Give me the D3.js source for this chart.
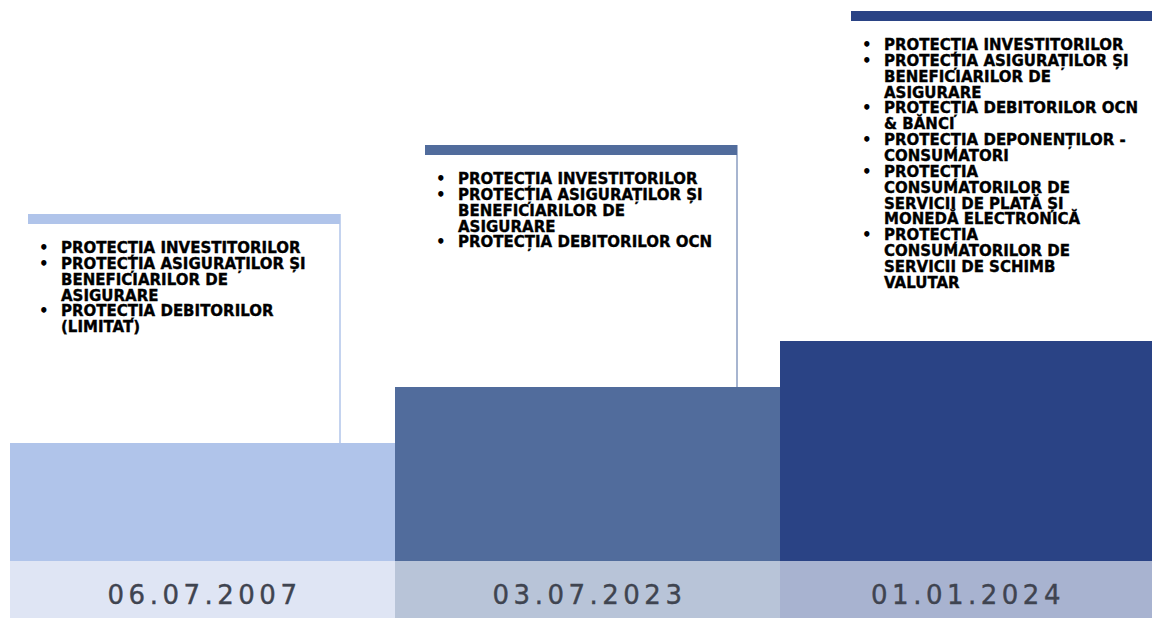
<!doctype html>
<html>
<head>
	<script src="https://d3js.org/d3.v7.min.js"></script>
	<style>
		body { margin: 0; background: #fff; }
		svg { display: block; }
	</style>
</head>
<body>
	<div id="viz">
		<svg style="width:1152px;height:618px;"></svg>
	</div>
	<script>
		// data
		var dates = ["06.07.2007", "03.07.2023", "01.01.2024"];
		var levels = [118, 174, 220];
		var barColors = ["#b0c4ea", "#516c9c", "#2a4385"];
		var bandColors = ["#dfe5f4", "#b8c4d8", "#a8b3d0"];
		var lineColors = ["#b0c4ea", "#8a9cc0", "#2a4385"];
		var items = [
			[["PROTECȚIA INVESTITORILOR"],
			 ["PROTECȚIA ASIGURAȚILOR ȘI", "BENEFICIARILOR DE", "ASIGURARE"],
			 ["PROTECȚIA DEBITORILOR", "(LIMITAT)"]],
			[["PROTECȚIA INVESTITORILOR"],
			 ["PROTECȚIA ASIGURAȚILOR ȘI", "BENEFICIARILOR DE", "ASIGURARE"],
			 ["PROTECȚIA DEBITORILOR OCN"]],
			[["PROTECȚIA INVESTITORILOR"],
			 ["PROTECȚIA ASIGURAȚILOR ȘI", "BENEFICIARILOR DE", "ASIGURARE"],
			 ["PROTECȚIA DEBITORILOR OCN", "& BĂNCI"],
			 ["PROTECȚIA DEPONENȚILOR -", "CONSUMATORI"],
			 ["PROTECȚIA", "CONSUMATORILOR DE", "SERVICII DE PLATĂ ȘI", "MONEDĂ ELECTRONICĂ"],
			 ["PROTECȚIA", "CONSUMATORILOR DE", "SERVICII DE SCHIMB", "VALUTAR"]]
		];

		// callout layout
		var boxOffset = [18, 30, 71];
		var boxTop = [214, 145, 11];
		var boxWidth = 312;

		var svg = d3.select("svg");
		var baseY = 561, bottom = 618;

		var xScale = d3.scaleBand().domain(dates).range([10, 1165]).padding(0);
		var yScale = d3.scaleLinear().domain([0, 220]).range([baseY, 341]);

		// callout boxes (behind bars)
		var box = svg.selectAll("g.box").data(dates).enter().append("g").attr("class", "box");
		box.append("line")
			.attr("x1", (d, i) => xScale(d) + boxOffset[i] + boxWidth)
			.attr("x2", (d, i) => xScale(d) + boxOffset[i] + boxWidth)
			.attr("y1", (d, i) => boxTop[i])
			.attr("y2", (d, i) => yScale(levels[i]))
			.attr("stroke", (d, i) => lineColors[i])
			.attr("stroke-width", 1.5);
		box.append("rect")
			.attr("x", (d, i) => xScale(d) + boxOffset[i])
			.attr("y", (d, i) => boxTop[i])
			.attr("width", boxWidth)
			.attr("height", 10)
			.attr("fill", (d, i) => barColors[i]);

		// bullet text
		box.each(function(d, i) {
			var g = d3.select(this);
			var tx = xScale(d) + boxOffset[i] + 33;
			var y = boxTop[i] + 39;
			items[i].forEach(function(item) {
				g.append("text").attr("x", tx - 22).attr("y", y)
					.attr("font-family", "DejaVu Sans").attr("font-weight", "bold").attr("font-size", 15)
					.text("•");
				item.forEach(function(line) {
					g.append("text").attr("x", tx).attr("y", y)
						.attr("font-family", "DejaVu Sans").attr("font-weight", "bold").attr("font-size", 15)
						.attr("fill", "#000")
						.attr("stroke", "#000").attr("stroke-width", 0.35)
						.text(line);
					y += 15.85;
				});
			});
		});

		// steps
		svg.selectAll("rect.bar").data(dates).enter().append("rect")
			.attr("class", "bar")
			.attr("x", d => xScale(d))
			.attr("y", (d, i) => yScale(levels[i]))
			.attr("width", xScale.bandwidth())
			.attr("height", (d, i) => baseY - yScale(levels[i]))
			.attr("fill", (d, i) => barColors[i]);

		// date bands
		svg.selectAll("rect.band").data(dates).enter().append("rect")
			.attr("class", "band")
			.attr("x", d => xScale(d))
			.attr("y", baseY)
			.attr("width", xScale.bandwidth())
			.attr("height", bottom - baseY)
			.attr("fill", (d, i) => bandColors[i]);

		svg.selectAll("text.date").data(dates).enter().append("text")
			.attr("class", "date")
			.attr("x", d => xScale(d) + (Math.min(xScale(d) + xScale.bandwidth(), 1152) - xScale(d)) / 2 + 2)
			.attr("y", 604)
			.attr("text-anchor", "middle")
			.attr("font-family", "DejaVu Sans")
			.attr("font-size", 26)
			.attr("letter-spacing", 4.5)
			.attr("fill", "#3f4450")
			.attr("stroke", "#3f4450").attr("stroke-width", 0.4)
			.text(d => d);
	</script>
</body>
</html>
